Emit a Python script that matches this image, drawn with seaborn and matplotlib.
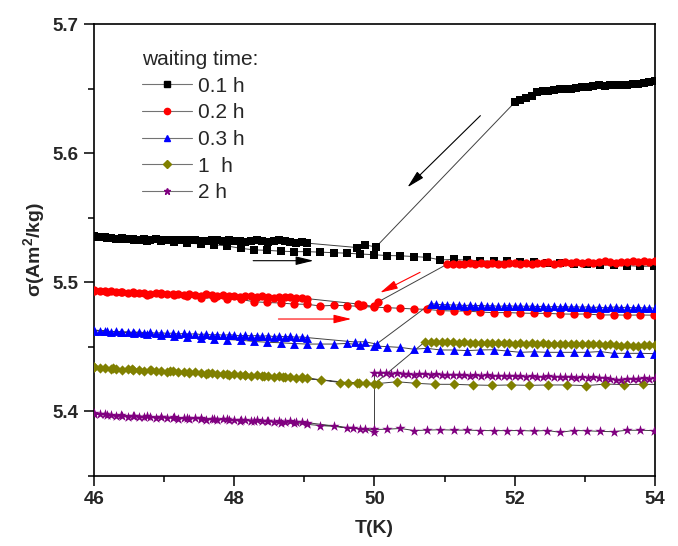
"""
Magnetisation sigma(T) around 50 K for different waiting times.
Cooling branch (dense), waiting at 50 K, further cooling, then heating (sparse).
"""
import seaborn as sns
import matplotlib.pyplot as plt
from matplotlib.lines import Line2D
from matplotlib.ticker import MultipleLocator

# temperature grids (K)
t_hi = [54.00, 53.92, 53.84, 53.76, 53.68, 53.60, 53.52, 53.44, 53.36, 53.28,
        53.20, 53.12, 53.04, 52.96, 52.88, 52.80, 52.72, 52.64, 52.56, 52.48,
        52.40, 52.32, 52.24, 52.16, 52.08, 52.00, 51.92, 51.84, 51.76, 51.68,
        51.60, 51.52, 51.44, 51.36, 51.28, 51.20, 51.12, 51.04, 50.96, 50.88,
        50.80, 50.72, 50.64, 50.56, 50.48, 50.40, 50.32, 50.24, 50.16, 50.08,
        50.00]
t_lo = [49.04, 48.96, 48.88, 48.80, 48.72, 48.64, 48.56, 48.48, 48.40, 48.32,
        48.24, 48.16, 48.08, 48.00, 47.92, 47.84, 47.76, 47.68, 47.60, 47.52,
        47.44, 47.36, 47.28, 47.20, 47.12, 47.04, 46.96, 46.88, 46.80, 46.72,
        46.64, 46.56, 46.48, 46.40, 46.32, 46.24, 46.16, 46.08, 46.00]
t_heat = [46.00, 46.19, 46.38, 46.57, 46.76, 46.95, 47.14, 47.33, 47.52, 47.71,
          47.90, 48.09, 48.28, 48.47, 48.66, 48.85, 49.04, 49.23, 49.42, 49.61,
          49.80, 49.99, 50.18, 50.37, 50.56, 50.75, 50.94, 51.13, 51.32, 51.51,
          51.70, 51.89, 52.08, 52.27, 52.46, 52.65, 52.84, 53.03, 53.22, 53.41,
          53.60, 53.79, 53.98]
t_heat_1h = [46.00, 46.27, 46.54, 46.81, 47.08, 47.35, 47.62, 47.89, 48.16, 48.43,
             48.70, 48.97, 49.24, 49.51, 49.78, 50.05, 50.32, 50.59, 50.86, 51.13,
             51.40, 51.67, 51.94, 52.21, 52.48, 52.75, 53.02, 53.29, 53.56, 53.83,
             54.10]

# 0.1 h
s01_hi = [5.6560, 5.6548, 5.6540, 5.6535, 5.6533, 5.6530, 5.6528, 5.6526, 5.6524, 5.6522,
          5.6527, 5.6520, 5.6515, 5.6512, 5.6505, 5.6498, 5.6500, 5.6495, 5.6488, 5.6480,
          5.6478, 5.6470, 5.6445, 5.6428, 5.6410, 5.6393]
t01_wait = [50.02, 49.87, 49.75]
s01_wait = [5.5272, 5.5288, 5.5268]
s01_lo = [5.5302, 5.5310, 5.5305, 5.5314, 5.5318, 5.5328, 5.5316, 5.5312, 5.5320, 5.5326,
          5.5318, 5.5314, 5.5322, 5.5320, 5.5328, 5.5318, 5.5324, 5.5330, 5.5322, 5.5320,
          5.5326, 5.5324, 5.5330, 5.5326, 5.5328, 5.5324, 5.5330, 5.5332, 5.5328, 5.5334,
          5.5330, 5.5336, 5.5332, 5.5338, 5.5336, 5.5340, 5.5346, 5.5350, 5.5357]
s01_heat = [5.5350, 5.5342, 5.5335, 5.5330, 5.5322, 5.5316, 5.5310, 5.5302, 5.5296, 5.5290,
            5.5280, 5.5262, 5.5250, 5.5246, 5.5240, 5.5236, 5.5236, 5.5232, 5.5228, 5.5224,
            5.5218, 5.5212, 5.5206, 5.5204, 5.5198, 5.5192, 5.5172, 5.5176, 5.5170, 5.5166,
            5.5160, 5.5162, 5.5156, 5.5152, 5.5150, 5.5146, 5.5140, 5.5142, 5.5135, 5.5130,
            5.5128, 5.5122, 5.5124]

# 0.2 h
s02_hi = [5.5162, 5.5158, 5.5164, 5.5156, 5.5160, 5.5152, 5.5158, 5.5150, 5.5156, 5.5162,
          5.5152, 5.5148, 5.5155, 5.5150, 5.5158, 5.5146, 5.5152, 5.5148, 5.5144, 5.5152,
          5.5146, 5.5150, 5.5142, 5.5148, 5.5140, 5.5146, 5.5150, 5.5142, 5.5138, 5.5146,
          5.5140, 5.5148, 5.5142, 5.5146, 5.5140, 5.5144, 5.5138, 5.5140]
t02_wait = [50.05, 50.00, 49.84, 49.77]
s02_wait = [5.4846, 5.4812, 5.4822, 5.4830]
s02_lo = [5.4872, 5.4880, 5.4876, 5.4884, 5.4882, 5.4888, 5.4880, 5.4886, 5.4892, 5.4884,
          5.4890, 5.4894, 5.4888, 5.4896, 5.4892, 5.4898, 5.4890, 5.4900, 5.4904, 5.4896,
          5.4902, 5.4908, 5.4900, 5.4906, 5.4910, 5.4904, 5.4912, 5.4916, 5.4910, 5.4918,
          5.4914, 5.4922, 5.4918, 5.4926, 5.4922, 5.4930, 5.4928, 5.4934, 5.4939]
s02_heat = [5.4932, 5.4926, 5.4922, 5.4915, 5.4902, 5.4906, 5.4898, 5.4892, 5.4874, 5.4880,
            5.4868, 5.4866, 5.4848, 5.4842, 5.4838, 5.4830, 5.4828, 5.4815, 5.4820, 5.4817,
            5.4812, 5.4806, 5.4802, 5.4797, 5.4792, 5.4789, 5.4779, 5.4776, 5.4776, 5.4768,
            5.4763, 5.4764, 5.4760, 5.4758, 5.4758, 5.4753, 5.4752, 5.4753, 5.4745, 5.4746,
            5.4744, 5.4745, 5.4744]

# 0.3 h
s03_hi = [5.4797, 5.4802, 5.4798, 5.4805, 5.4800, 5.4806, 5.4802, 5.4808, 5.4804, 5.4800,
          5.4807, 5.4803, 5.4809, 5.4805, 5.4810, 5.4806, 5.4811, 5.4808, 5.4812, 5.4807,
          5.4813, 5.4810, 5.4815, 5.4811, 5.4816, 5.4812, 5.4818, 5.4815, 5.4812, 5.4818,
          5.4815, 5.4820, 5.4817, 5.4822, 5.4818, 5.4824, 5.4821, 5.4826, 5.4824, 5.4830,
          5.4832]
t03_wait = [50.03, 49.86, 49.72]
s03_wait = [5.4520, 5.4538, 5.4536]
s03_lo = [5.4570, 5.4576, 5.4572, 5.4580, 5.4576, 5.4582, 5.4578, 5.4585, 5.4580, 5.4586,
          5.4583, 5.4588, 5.4584, 5.4590, 5.4592, 5.4588, 5.4594, 5.4590, 5.4598, 5.4594,
          5.4600, 5.4596, 5.4602, 5.4598, 5.4605, 5.4602, 5.4608, 5.4604, 5.4610, 5.4608,
          5.4614, 5.4610, 5.4616, 5.4613, 5.4618, 5.4616, 5.4622, 5.4625, 5.4629]
s03_heat = [5.4624, 5.4618, 5.4612, 5.4606, 5.4600, 5.4590, 5.4580, 5.4572, 5.4566, 5.4560,
            5.4555, 5.4550, 5.4540, 5.4534, 5.4530, 5.4524, 5.4520, 5.4520, 5.4520, 5.4525,
            5.4513, 5.4505, 5.4500, 5.4494, 5.4480, 5.4487, 5.4474, 5.4474, 5.4469, 5.4474,
            5.4476, 5.4466, 5.4456, 5.4460, 5.4456, 5.4456, 5.4456, 5.4456, 5.4462, 5.4448,
            5.4448, 5.4448, 5.4446]

# 1 h
s1_hi = [5.4513, 5.4516, 5.4512, 5.4508, 5.4505, 5.4510, 5.4506, 5.4514, 5.4518, 5.4515,
         5.4520, 5.4517, 5.4521, 5.4518, 5.4522, 5.4519, 5.4523, 5.4520, 5.4524, 5.4521,
         5.4525, 5.4522, 5.4526, 5.4523, 5.4527, 5.4524, 5.4528, 5.4526, 5.4529, 5.4527,
         5.4531, 5.4528, 5.4532, 5.4530, 5.4534, 5.4531, 5.4535, 5.4533, 5.4536, 5.4534,
         5.4537, 5.4538]
t1_wait = [50.00, 49.88, 49.75, 49.62]
s1_wait = [5.4212, 5.4216, 5.4216, 5.4221]
s1_lo = [5.4255, 5.4262, 5.4258, 5.4266, 5.4262, 5.4270, 5.4266, 5.4274, 5.4270, 5.4278,
         5.4275, 5.4282, 5.4278, 5.4285, 5.4282, 5.4290, 5.4286, 5.4294, 5.4290, 5.4298,
         5.4302, 5.4298, 5.4306, 5.4302, 5.4310, 5.4306, 5.4314, 5.4310, 5.4318, 5.4315,
         5.4322, 5.4318, 5.4326, 5.4322, 5.4330, 5.4328, 5.4335, 5.4338, 5.4345]
s1_heat = [5.4340, 5.4332, 5.4326, 5.4318, 5.4310, 5.4305, 5.4298, 5.4290, 5.4282, 5.4275,
           5.4266, 5.4255, 5.4242, 5.4222, 5.4218, 5.4214, 5.4228, 5.4216, 5.4208, 5.4208,
           5.4203, 5.4200, 5.4203, 5.4200, 5.4203, 5.4203, 5.4198, 5.4210, 5.4206, 5.4208,
           5.4206]

# 2 h
s2_hi = [5.4255, 5.4252, 5.4258, 5.4250, 5.4246, 5.4253, 5.4244, 5.4242, 5.4248, 5.4256,
         5.4260, 5.4262, 5.4258, 5.4264, 5.4260, 5.4266, 5.4262, 5.4268, 5.4264, 5.4270,
         5.4266, 5.4268, 5.4272, 5.4268, 5.4274, 5.4270, 5.4272, 5.4276, 5.4272, 5.4274,
         5.4278, 5.4275, 5.4280, 5.4276, 5.4282, 5.4278, 5.4284, 5.4280, 5.4282, 5.4286,
         5.4283, 5.4285, 5.4288, 5.4284, 5.4290, 5.4287, 5.4292, 5.4288, 5.4294, 5.4296,
         5.4293]
t2_wait = [50.00, 49.86, 49.70]
s2_wait = [5.3838, 5.3860, 5.3867]
s2_lo = [5.3911, 5.3916, 5.3913, 5.3920, 5.3917, 5.3922, 5.3919, 5.3925, 5.3922, 5.3928,
         5.3924, 5.3930, 5.3927, 5.3932, 5.3930, 5.3936, 5.3932, 5.3938, 5.3935, 5.3941,
         5.3944, 5.3940, 5.3946, 5.3943, 5.3949, 5.3946, 5.3952, 5.3949, 5.3955, 5.3952,
         5.3958, 5.3962, 5.3958, 5.3966, 5.3962, 5.3970, 5.3975, 5.3978, 5.3984]
s2_heat = [5.3976, 5.3972, 5.3968, 5.3963, 5.3960, 5.3955, 5.3952, 5.3948, 5.3944, 5.3940,
           5.3936, 5.3932, 5.3926, 5.3920, 5.3912, 5.3905, 5.3898, 5.3888, 5.3882, 5.3870,
           5.3862, 5.3858, 5.3860, 5.3866, 5.3850, 5.3853, 5.3856, 5.3853, 5.3853, 5.3850,
           5.3849, 5.3849, 5.3850, 5.3846, 5.3850, 5.3836, 5.3850, 5.3848, 5.3843, 5.3841,
           5.3852, 5.3852, 5.3849]

labels = ["0.1 h", "0.2 h", "0.3 h", "1  h", "2 h"]
colors = ["#000000", "#ff0000", "#0000ff", "#808000", "#800080"]
markers = ["s", "o", "^", "D", "*"]
msizes = [5.2, 6.0, 6.4, 5.2, 7.8]

series = [
    (s01_hi, t01_wait, s01_wait, s01_lo, t_heat, s01_heat),
    (s02_hi, t02_wait, s02_wait, s02_lo, t_heat, s02_heat),
    (s03_hi, t03_wait, s03_wait, s03_lo, t_heat, s03_heat),
    (s1_hi, t1_wait, s1_wait, s1_lo, t_heat_1h, s1_heat),
    (s2_hi, t2_wait, s2_wait, s2_lo, t_heat, s2_heat),
]

sns.set_theme(style="ticks")
plt.rcParams["font.family"] = ["Liberation Sans", "DejaVu Sans"]
plt.rcParams["mathtext.fontset"] = "custom"
plt.rcParams["mathtext.rm"] = "Liberation Sans:bold"
plt.rcParams["mathtext.it"] = "Liberation Sans:bold"
plt.rcParams["mathtext.bf"] = "Liberation Sans:bold"

fig = plt.figure(figsize=(6.78, 5.46), dpi=100)
ax = fig.add_axes([0.1386, 0.1288, 0.8275, 0.8272])

for (s_hi, t_w, s_w, s_lo, t_h, s_h), c, m, ms in zip(series, colors, markers, msizes):
    temps = t_hi[:len(s_hi)] + t_w + t_lo[:len(s_lo)] + t_h[:len(s_h)]
    sig = s_hi + s_w + s_lo + s_h
    sns.lineplot(x=temps, y=sig, sort=False, estimator=None, color="0.25",
                 lw=0.7, ax=ax, zorder=2)
    sns.scatterplot(x=temps, y=sig, marker=m, color=c, s=ms ** 2, linewidth=0,
                    ax=ax, zorder=3)

# arrows showing the direction of the temperature sweep
arrow_kw = dict(arrowstyle="-|>,head_length=0.9,head_width=0.22", lw=0.8,
                shrinkA=0, shrinkB=0)
ax.annotate("", xy=(50.47, 5.5735), xytext=(51.51, 5.629),
            arrowprops=dict(color="black", **arrow_kw))
ax.annotate("", xy=(49.13, 5.5166), xytext=(48.27, 5.5166),
            arrowprops=dict(color="black", **arrow_kw))
ax.annotate("", xy=(49.67, 5.4714), xytext=(48.63, 5.4714),
            arrowprops=dict(color="red", **arrow_kw))
ax.annotate("", xy=(50.08, 5.4918), xytext=(50.65, 5.5076),
            arrowprops=dict(color="red", **arrow_kw))

ax.set_xlim(46, 54)
ax.set_ylim(5.35, 5.7)
ax.xaxis.set_major_locator(MultipleLocator(2))
ax.xaxis.set_minor_locator(MultipleLocator(1))
ax.yaxis.set_major_locator(MultipleLocator(0.1))
ax.yaxis.set_minor_locator(MultipleLocator(0.05))
ax.yaxis.set_major_formatter(plt.FormatStrFormatter("%.1f"))
ax.tick_params(which="major", direction="out", length=7.5, width=1.1,
               labelsize=13.5, pad=3.5, top=False, right=False, color="black")
ax.tick_params(which="minor", direction="out", length=4, width=1.1,
               top=False, right=False, color="black")
for lab in ax.get_xticklabels() + ax.get_yticklabels():
    lab.set_fontweight("bold")
for sp in ax.spines.values():
    sp.set_linewidth(1.2)
    sp.set_color("black")
    sp.set_visible(True)

ax.set_xlabel("T(K)", fontsize=14, fontweight="bold", labelpad=9)
ax.set_ylabel("σ(Am$^{2}$/kg)", fontsize=14, fontweight="bold", labelpad=4)

handles = [Line2D([], [], color="0.45", lw=0.8, marker=m, markersize=4.5,
                  markerfacecolor=c, markeredgecolor=c)
           for c, m in zip(colors, markers)]
leg = ax.legend(handles, labels, title="waiting time:", loc="upper left",
                bbox_to_anchor=(0.06, 0.975), frameon=False, fontsize=15,
                title_fontsize=15, alignment="left", labelspacing=0.37,
                handlelength=2.4, handletextpad=0.3, borderpad=0.2)

fig.savefig("out.png", dpi=100)
